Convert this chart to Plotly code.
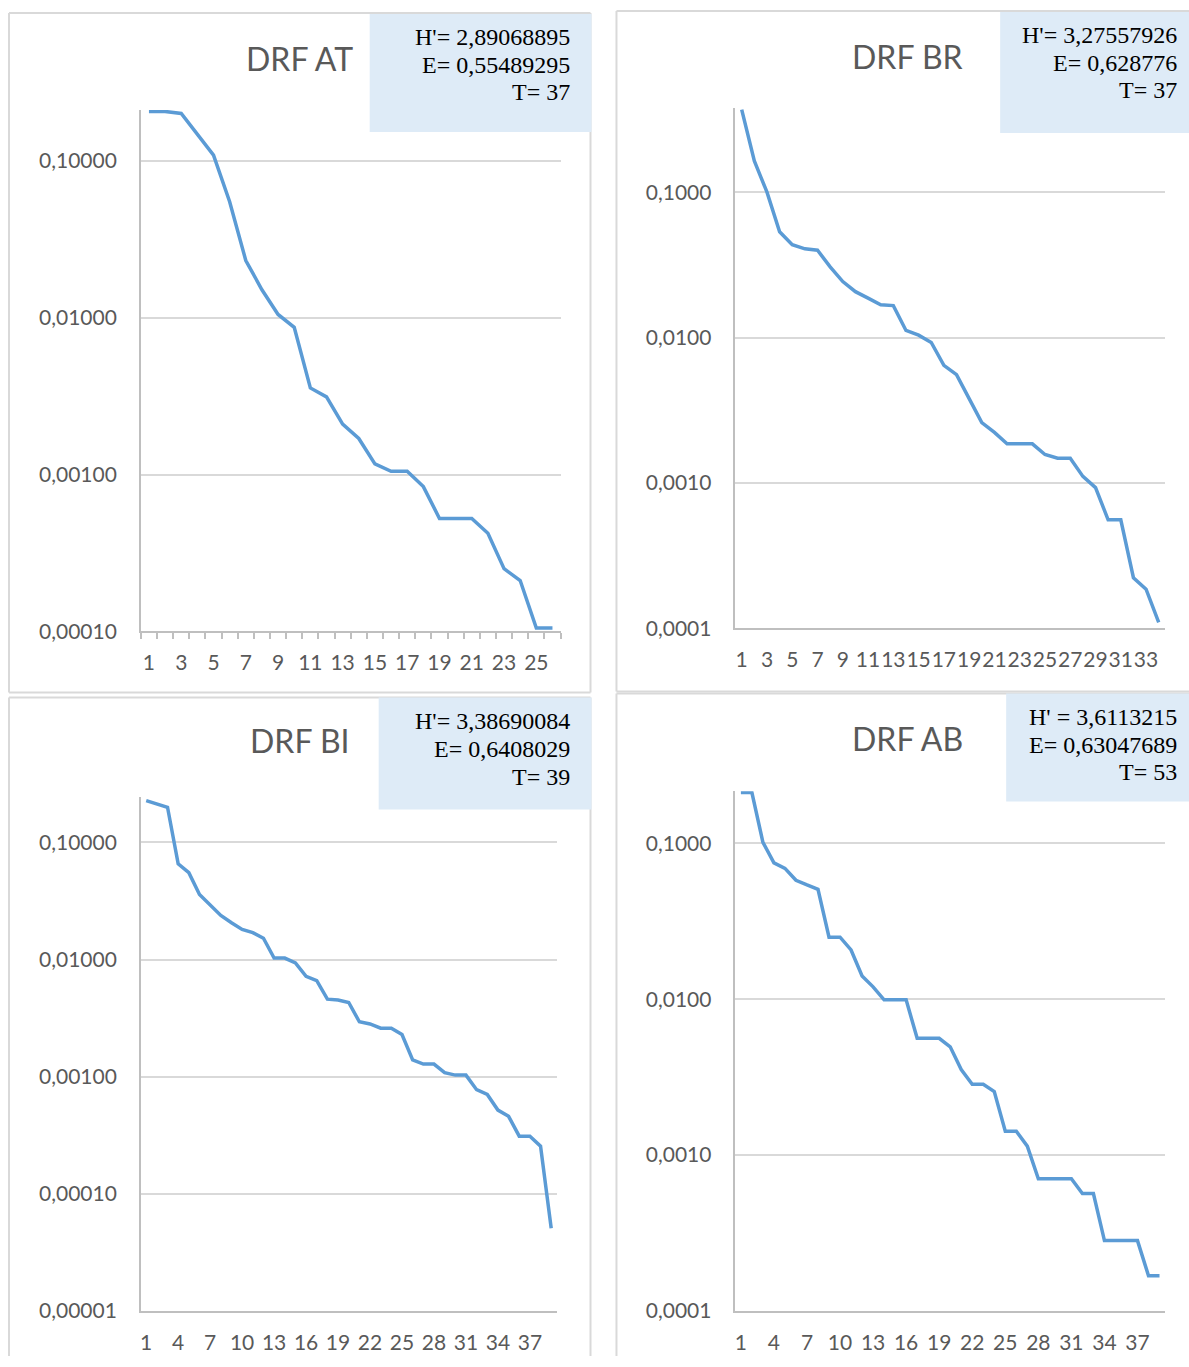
import plotly.graph_objects as go

W, H = 1189, 1367
# the photographed page comes back ~0.9% shorter vertically; compensate so
# reference pixel rows land where they belong in the returned picture
K = 1.0087

# ---------------- data ----------------
titles = ["DRF AT", "DRF BR", "DRF BI", "DRF AB"]

at_values = [0.207, 0.207, 0.201, 0.149, 0.109, 0.055, 0.0232, 0.0151, 0.0105, 0.00869,
             0.00357, 0.00313, 0.00210, 0.00170, 0.00117, 0.00105, 0.00105, 0.000838,
             0.000525, 0.000525, 0.000525, 0.000422, 0.000251, 0.000211, 0.000105, 0.000105]

br_values = [0.370, 0.164, 0.100, 0.0535, 0.0436, 0.0408, 0.0399, 0.0307, 0.0243, 0.0207,
             0.0187, 0.0168, 0.0166, 0.0112, 0.0104, 0.00925, 0.00644, 0.00556, 0.00380,
             0.00260, 0.00223, 0.00186, 0.00186, 0.00186, 0.00157, 0.00148, 0.00148,
             0.00111, 0.000929, 0.000558, 0.000558, 0.000223, 0.000186, 0.000110]

bi_values = [0.228, 0.215, 0.200, 0.0656, 0.0552, 0.0360, 0.0290, 0.0238, 0.0206, 0.0181,
             0.0170, 0.0152, 0.0103, 0.0103, 0.00937, 0.00719, 0.00660, 0.00459, 0.00452,
             0.00430, 0.00294, 0.00282, 0.00259, 0.00259, 0.00229, 0.00139, 0.00128,
             0.00128, 0.00108, 0.00103, 0.00103, 0.000773, 0.000704, 0.000518, 0.000458,
             0.000310, 0.000310, 0.000255, 0.0000507]

ab_values = [0.212, 0.212, 0.1016, 0.0750, 0.0691, 0.0580, 0.0541, 0.0507, 0.0250, 0.0250,
             0.0207, 0.0141, 0.0120, 0.0099, 0.0099, 0.0099, 0.00561, 0.00561, 0.00561,
             0.00495, 0.00353, 0.00284, 0.00284, 0.00255, 0.00142, 0.00142, 0.00114,
             0.000703, 0.000703, 0.000703, 0.000703, 0.000565, 0.000565, 0.000282,
             0.000282, 0.000282, 0.000282, 0.000168, 0.000168]

series = [at_values, br_values, bi_values, ab_values]

stats_h = ["H'= 2,89068895", "H'= 3,27557926", "H'= 3,38690084", "H' = 3,6113215"]
stats_e = ["E= 0,55489295", "E= 0,628776", "E= 0,6408029", "E= 0,63047689"]
stats_t = ["T= 37", "T= 37", "T= 39", "T= 53"]

ytick_vals = [
    [1e-4, 1e-3, 1e-2, 1e-1],
    [1e-4, 1e-3, 1e-2, 1e-1],
    [1e-5, 1e-4, 1e-3, 1e-2, 1e-1],
    [1e-4, 1e-3, 1e-2, 1e-1],
]
ytick_text = [
    ["0,00010", "0,00100", "0,01000", "0,10000"],
    ["0,0001", "0,0010", "0,0100", "0,1000"],
    ["0,00001", "0,00010", "0,00100", "0,01000", "0,10000"],
    ["0,0001", "0,0010", "0,0100", "0,1000"],
]
xlabel_step = [2, 2, 3, 3]

# ---------------- layout geometry (reference pixels) ----------------
plots = [
    dict(l=140, r=560, b=631, dec=156.7, lo=-4, hi=-0.675),
    dict(l=735, r=1165, b=628, dec=145.3, lo=-4, hi=-0.42),
    dict(l=140, r=556, b=1310, dec=117.0, lo=-5, hi=-0.61),
    dict(l=735, r=1165, b=1310, dec=155.7, lo=-4, hi=-0.665),
]
frames = [
    (8, 13, 590, 692, "ltrb"),
    (616, 11, None, 691, "ltb"),
    (8, 697, 590, None, "ltr"),
    (616, 693, None, None, "lt"),
]
boxes = [(369, 14, 591, 132), (1000, 12, W, 133), (378, 697, 591, 809), (1006, 693, W, 801)]
title_pos = [(299, 58), (907, 56), (299, 740), (907, 738)]
stat_right = [571, 1179, 571, 1179]
stat_y = [(37, 65, 92), (35, 63, 90), (721, 749, 777), (717, 745, 772)]

LINE = "#5B9BD5"
GRID = "#D9D9D9"
AXIS = "#BFBFBF"
TXT = "#595959"

fig = go.Figure()
layout = dict(
    width=W, height=H,
    margin=dict(l=0, r=0, t=0, b=0, pad=0),
    paper_bgcolor="white", plot_bgcolor="white",
    showlegend=False,
    shapes=[], annotations=[],
)

def px_x(v):
    return v / W

def px_y(v):
    return max(0.0, 1 - v * K / H)

def seg(x0, y0, x1, y1):
    return dict(type="line", xref="paper", yref="paper",
                x0=px_x(x0), y0=px_y(y0), x1=px_x(x1), y1=px_y(y1),
                line=dict(color=GRID, width=2), layer="below")

for i, vals in enumerate(series):
    p = plots[i]
    n = len(vals)
    top = p["b"] - (p["hi"] - p["lo"]) * p["dec"]
    suffix = "" if i == 0 else str(i + 1)
    xs = list(range(1, n + 1))
    fig.add_trace(go.Scatter(
        x=xs, y=vals, mode="lines",
        line=dict(color=LINE, width=3.5),
        xaxis="x" + suffix, yaxis="y" + suffix,
        hoverinfo="skip",
    ))
    tv = list(range(1, n + 1, xlabel_step[i]))
    xa = dict(
        domain=[px_x(p["l"]), px_x(p["r"])],
        anchor="y" + suffix,
        range=[0.5, n + 0.5],
        tickmode="array", tickvals=tv, ticktext=[str(v) for v in tv],
        tickangle=0,
        ticks="", showgrid=False, zeroline=False,
        showline=True, linecolor=AXIS, linewidth=1.5,
        tickfont=dict(family="Lato", size=21, color=TXT),
        ticklabelstandoff=12,
        fixedrange=True,
    )
    if i == 0:
        xa["minor"] = dict(tickmode="linear", tick0=0.5, dtick=1, ticks="outside",
                           ticklen=6, tickcolor=AXIS, tickwidth=1.5, showgrid=False)
    ya = dict(
        domain=[px_y(p["b"]), px_y(top)],
        anchor="x" + suffix,
        type="log",
        range=[p["lo"], p["hi"]],
        tickmode="array", tickvals=ytick_vals[i], ticktext=ytick_text[i],
        ticks="", showgrid=True, gridcolor=GRID, gridwidth=1.5,
        zeroline=False,
        showline=True, linecolor=AXIS, linewidth=1.5,
        tickfont=dict(family="Lato", size=21, color=TXT),
        ticklabelstandoff=18,
        fixedrange=True,
    )
    layout["xaxis" + suffix] = xa
    layout["yaxis" + suffix] = ya

    fx0, fy0, fx1, fy1, sides = frames[i]
    xe = fx1 if fx1 is not None else W
    ye = fy1 if fy1 is not None else H
    if "l" in sides:
        layout["shapes"].append(seg(fx0, fy0, fx0, ye))
    if "t" in sides:
        layout["shapes"].append(seg(fx0, fy0, xe, fy0))
    if "r" in sides:
        layout["shapes"].append(seg(fx1, fy0, fx1, ye))
    if "b" in sides:
        layout["shapes"].append(seg(fx0, fy1, xe, fy1))

    bx0, by0, bx1, by1 = boxes[i]
    layout["shapes"].append(dict(
        type="rect", xref="paper", yref="paper",
        x0=px_x(bx0), x1=px_x(bx1), y0=px_y(by1), y1=px_y(by0),
        line=dict(width=0), fillcolor="#DEEBF7", layer="above",
    ))
    tx, ty = title_pos[i]
    layout["annotations"].append(dict(
        text=titles[i], xref="paper", yref="paper",
        x=px_x(tx), y=px_y(ty), xanchor="center", yanchor="middle",
        showarrow=False, font=dict(family="Lato", size=32, color=TXT),
    ))
    for txt, yy in zip([stats_h[i], stats_e[i], stats_t[i]], stat_y[i]):
        layout["annotations"].append(dict(
            text=txt, xref="paper", yref="paper",
            x=px_x(stat_right[i]), y=px_y(yy), xanchor="right", yanchor="middle",
            showarrow=False,
            font=dict(family="Liberation Serif", size=24, color="black"),
        ))

fig.update_layout(**layout)

page_fix = (
    "document.documentElement.style.margin='0';"
    "document.documentElement.style.overflow='hidden';"
    "document.body.style.margin='0';"
    "document.body.style.overflow='hidden';"
    "var g=document.getElementById('{plot_id}');"
    "g.style.position='fixed';g.style.left='0px';g.style.top='0px';"
)
fig.write_html(
    "out.html",
    config=dict(displayModeBar=False),
    post_script=page_fix,
)
